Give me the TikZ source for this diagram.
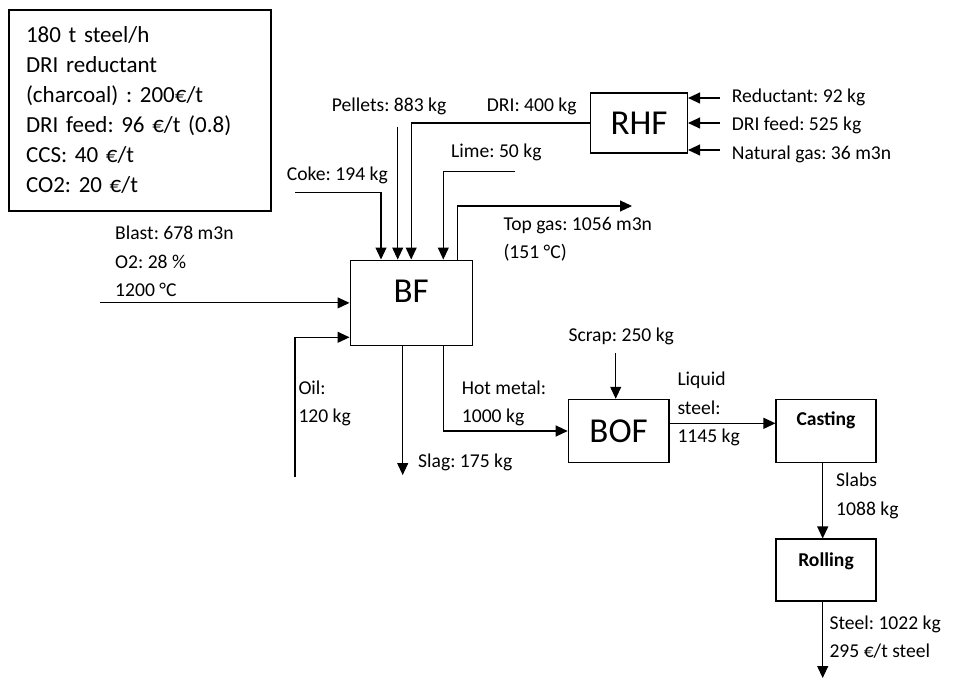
\documentclass[tikz,border=0pt]{standalone}
\usepackage{fontspec}
\setmainfont{Carlito}
\usetikzlibrary{arrows.meta, positioning}
\frenchspacing

\begin{document}
\begin{tikzpicture}[x=1pt, y=-1pt,
    unit/.style={rectangle, draw, line width=1.1pt},
    big/.style={font=\fontsize{35}{35}\selectfont},
    bold/.style={font=\fontsize{19.6}{22}\selectfont\bfseries},
    lbl/.style={anchor=west, inner sep=0pt, align=left, font=\fontsize{19.6}{28.3}\selectfont},
    arrow/.style={-{Triangle[length=12pt, width=11pt]}, line width=1.1pt}
]
\useasboundingbox (0,0) rectangle (953,679);

\node[unit, minimum width=262pt, minimum height=201pt, text width=228pt, inner xsep=17pt, align=left, font=\fontsize{23}{30}\selectfont] (info) at (140,110.5) {180 t steel/h\\DRI reductant\\(charcoal) : 200€/t\\DRI feed: 96 €/t (0.8)\\CCS: 40 €/t\\CO2: 20 €/t};

\node[unit, big, minimum width=97pt, minimum height=60pt] (rhf) at (639,123) {RHF};
\node[unit, minimum width=122.3pt, minimum height=85.7pt, label={[big, anchor=center, yshift=-31.7pt]north:BF}] (bf) at (411.2,302.9) {};
\node[unit, big, minimum width=100.7pt, minimum height=63.4pt] (bof) at (618.6,431) {BOF};
\node[unit, minimum width=100pt, minimum height=63.4pt, label={[bold, anchor=center, yshift=-21.4pt]north:Casting}] (cast) at (826,431) {};
\node[unit, minimum width=100pt, minimum height=62pt, label={[bold, anchor=center, yshift=-22.7pt]north:Rolling}] (roll) at (826,570) {};

\node[lbl] (pellbl) at (331.7,106) {Pellets: 883 kg};
\node[lbl] (drilbl) at (486.7,106) {DRI: 400 kg};
\node[lbl] (limelbl) at (451,152.3) {Lime: 50 kg};
\node[lbl] (cokelbl) at (286.7,175.7) {Coke: 194 kg};
\node[lbl] (toplbl) at (503.3,239) {Top gas: 1056 m3n\\(151 °C)};
\node[lbl] (blastlbl) at (115,261.3) {Blast: 678 m3n\\O2: 28 \%\\1200 °C};
\node[lbl] (oillbl) at (298.3,403.3) {Oil:\\120 kg};
\node[lbl] (hotlbl) at (461.7,403.3) {Hot metal:\\1000 kg};
\node[lbl] (slaglbl) at (418,462) {Slag: 175 kg};
\node[lbl] (scraplbl) at (568.3,336) {Scrap: 250 kg};
\node[lbl] (liqlbl) at (677.3,409) {Liquid\\steel:\\1145 kg};
\node[lbl] (slabslbl) at (836,496) {Slabs\\1088 kg};
\node[lbl] (steellbl) at (829.3,637) {Steel: 1022 kg\\295 €/t steel};
\node[lbl] (redlbl) at (731.7,97) {Reductant: 92 kg};
\node[lbl] (feedlbl) at (731.7,125) {DRI feed: 525 kg};
\node[lbl] (gaslbl) at (731.7,154) {Natural gas: 36 m3n};

\coordinate (red) at (720,98);
\coordinate (feed) at (720,123);
\coordinate (gas) at (720,150);
\coordinate (pel) at (397.7,126.7);
\coordinate (coke) at (295,192.3);
\coordinate (lime) at (515,171.7);
\coordinate (topgas) at (632,206);
\coordinate (blast) at (100,302.9);
\coordinate (oil) at (295,476.7);
\coordinate (slag) at (402.7,475);
\coordinate (scrap) at (615.7,353);
\coordinate (steel) at (822.7,678);

\draw[arrow] (red) -- (red -| rhf.east);
\draw[arrow] (feed) -- (feed -| rhf.east);
\draw[arrow] (gas) -- (gas -| rhf.east);
\draw[arrow] (rhf.west) -| (bf.north);
\draw[arrow] (pel) -- (pel |- bf.north);
\draw[arrow] (coke) -| ([xshift=-30.2pt]bf.north);
\draw[arrow] (lime) -| ([xshift=32.1pt]bf.north);
\draw[arrow] ([xshift=46.1pt]bf.north) |- (topgas);
\draw[arrow] (blast) -- (bf.west);
\draw[arrow] (oil) |- ([yshift=-34.4pt]bf.west);
\draw[arrow] ([xshift=-8.5pt]bf.south) -- (slag);
\draw[arrow] ([xshift=32.1pt]bf.south) |- (bof.west);
\draw[arrow] (scrap) -- (scrap |- bof.north);
\draw[arrow] ([yshift=7.7pt]bof.east) -- ([yshift=7.7pt]cast.west);
\draw[arrow] ([xshift=-3.3pt]cast.south) -- ([xshift=-3.3pt]roll.north);
\draw[arrow] ([xshift=-3.3pt]roll.south) -- (steel);
\end{tikzpicture}
\end{document}
